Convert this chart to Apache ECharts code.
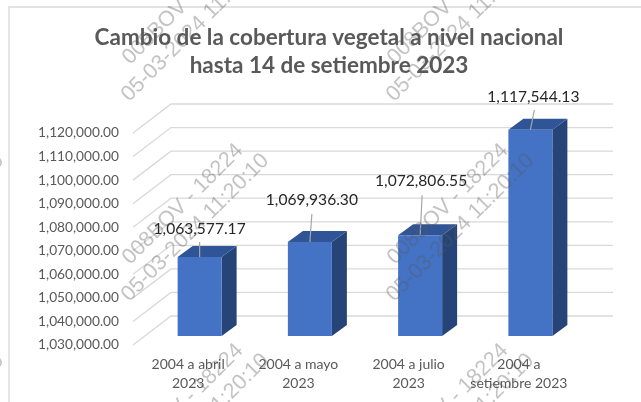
<!DOCTYPE html>
<html>
<head>
<meta charset="utf-8">
<style>html,body{margin:0;padding:0;background:#fff}#main{width:641px;height:402px}</style>
<script src="https://cdn.jsdelivr.net/npm/echarts@6/dist/echarts.min.js"></script>
</head>
<body>
<div id="main"></div>
<script>
const categories = ["2004 a abril\n2023", "2004 a mayo\n2023", "2004 a julio\n2023", "2004 a\nsetiembre 2023"];
const values = [1063577.17, 1069936.30, 1072806.55, 1117544.13];
const ticks = [1030000, 1040000, 1050000, 1060000, 1070000, 1080000, 1090000, 1100000, 1110000, 1120000];
const title_text = "Cambio de la cobertura vegetal a nivel nacional\nhasta 14 de setiembre 2023";
const stamp_code = "008BOV - 18224";
const stamp_date = "05-03-2024 11:20:10";

// layout of the fake 3d, in pixels
const wall = { dx: 38, dy: -29, width: 442 };
const bar = { dx: 11, dy: -9, width: 44, depth_x: 15, depth_y: -11 };
const label_pos = [[0, -28, 0, -15], [2, -42, 2, -28], [1, -54, 2, -40], [3, -33, 4, -20]];

const money = (v) => v.toLocaleString("en-US", { minimumFractionDigits: 2, maximumFractionDigits: 2 });
const font = "Lato";

const chart = echarts.init(document.getElementById("main"), null, { renderer: "canvas" });

function wallItem(params, api) {
  const p = api.coord([0, api.value(0)]);
  const x0 = params.coordSys.x;
  const y0 = p[1];
  return {
    type: "polyline",
    silent: true,
    shape: { points: [[x0, y0], [x0 + wall.dx, y0 + wall.dy], [x0 + wall.dx + wall.width, y0 + wall.dy]] },
    style: { fill: null, stroke: "#d9d9d9", lineWidth: 1.3 },
  };
}

function barItem(params, api) {
  const i = api.value(0);
  const v = api.value(1);
  const top = api.coord([i, v]);
  const base = api.coord([i, ticks[0]]);
  const l = top[0] + bar.dx - bar.width / 2 + 0.5;
  const r = l + bar.width;
  const t = top[1] + bar.dy;
  const b = base[1] + bar.dy;
  const dx = bar.depth_x;
  const dy = bar.depth_y;
  const pos = label_pos[i];
  const mid = (l + r) / 2;
  return {
    type: "group",
    children: [
      { type: "polygon", shape: { points: [[r, t], [r + dx, t + dy], [r + dx, b + dy], [r, b]] }, style: { fill: "#264478" } },
      { type: "polygon", shape: { points: [[l, t], [l + dx, t + dy], [r + dx, t + dy], [r, t]] }, style: { fill: "#2f5597" } },
      { type: "rect", shape: { x: l, y: t, width: bar.width, height: b - t }, style: { fill: "#4472c4" } },
      { type: "line", shape: { x1: mid, y1: t, x2: mid + pos[2], y2: t + pos[3] }, style: { stroke: "#a6a6a6", lineWidth: 1.2 } },
      {
        type: "text",
        style: {
          x: mid + pos[0],
          y: t + pos[1],
          text: money(v),
          fill: "#262626",
          font: "15.6px " + font,
          align: "center",
          verticalAlign: "middle",
        },
      },
    ],
  };
}

// the stamp repeats over the whole page
const stamps = [];
for (const x of [-142, 123, 388]) {
  for (const y of [98, 298, 498]) {
    [[stamp_code, x + 3, y - 37], [stamp_date, x + 2, y]].forEach(([text, tx, ty]) => {
      stamps.push({
        type: "text",
        x: tx,
        y: ty,
        rotation: Math.PI / 4,
        z: 100,
        silent: true,
        style: {
          x: 0,
          y: 0,
          text: text,
          font: "21.6px 'Liberation Sans'",
          fill: "rgba(90,90,90,0.36)",
          align: "left",
          verticalAlign: "middle",
        },
      });
    });
  }
}

chart.setOption({
  backgroundColor: "#fff",
  animation: false,
  title: {
    text: title_text,
    left: 329,
    top: 19,
    textAlign: "center",
    textStyle: { color: "#595959", fontFamily: font, fontWeight: "bold", fontSize: 22.5, lineHeight: 28 },
  },
  grid: { left: 133, top: 133, width: 441, height: 212 },
  xAxis: {
    type: "category",
    data: categories,
    axisLine: { show: false },
    axisTick: { show: false },
    axisLabel: { color: "#595959", fontFamily: font, fontSize: 14, lineHeight: 19, margin: 10, interval: 0 },
  },
  yAxis: {
    type: "value",
    min: ticks[0],
    max: ticks[ticks.length - 1],
    interval: 10000,
    axisLine: { show: false },
    axisTick: { show: false },
    splitLine: { show: false },
    axisLabel: { color: "#595959", fontFamily: font, fontSize: 13.7, margin: 14, formatter: (v) => money(v) },
  },
  graphic: [
    { type: "rect", z: -1, silent: true, shape: { x: 9, y: 7, width: 700, height: 500 }, style: { fill: "#fff", stroke: "#d9d9d9", lineWidth: 1.3 } },
    ...stamps,
  ],
  series: [
    { type: "custom", coordinateSystem: "cartesian2d", renderItem: wallItem, data: ticks.map((t) => [t]), encode: { y: 0 }, z: 1 },
    { type: "custom", coordinateSystem: "cartesian2d", renderItem: barItem, data: values.map((v, i) => [i, v]), encode: { x: 0, y: 1 }, z: 2 },
  ],
});

// title sits a little left of the plot centre
chart.setOption({ title: { left: 324 } });
</script>
</body>
</html>
